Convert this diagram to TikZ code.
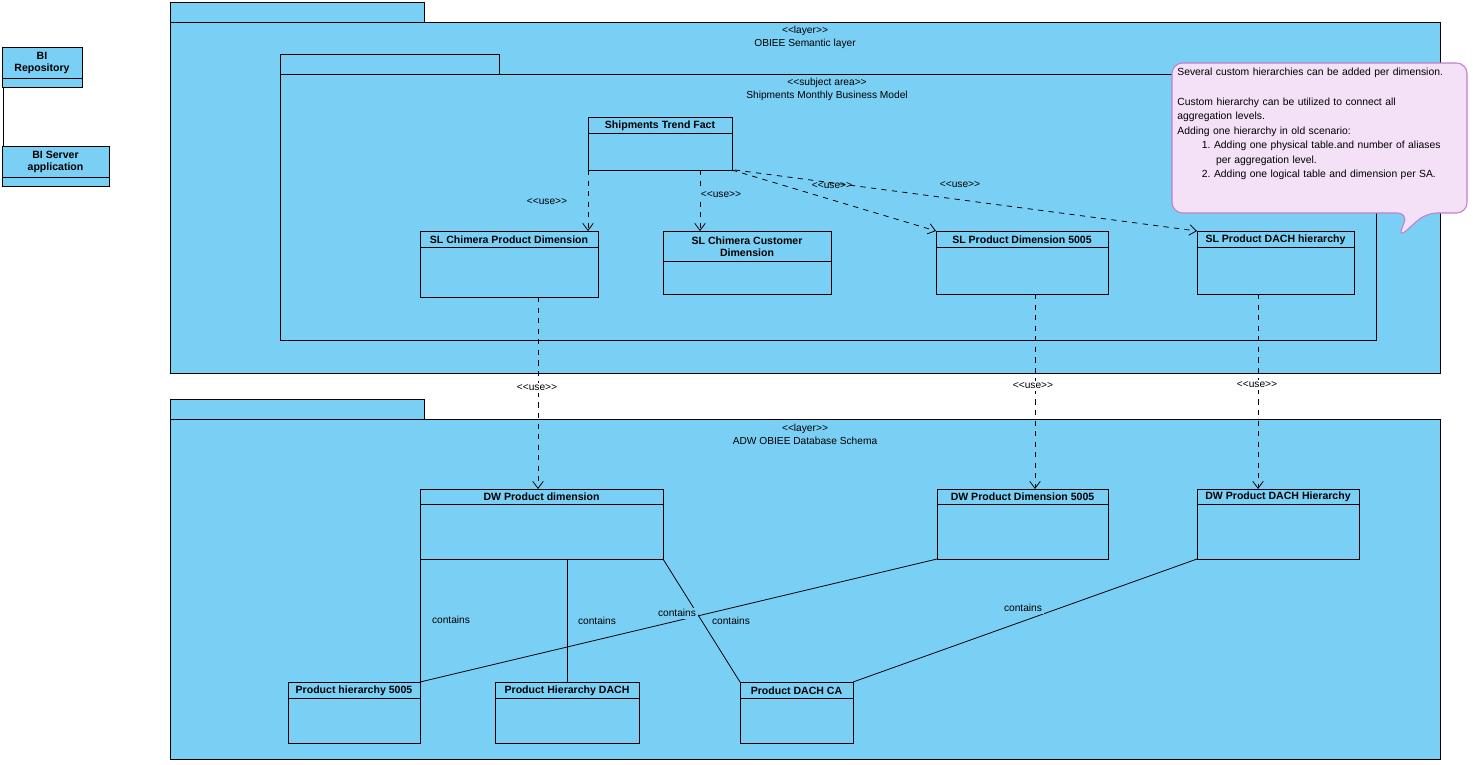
\documentclass[tikz,border=0pt]{standalone}
\usepackage{fontspec}
\setmainfont{Liberation Sans}
\usetikzlibrary{arrows.meta}
\definecolor{pkgblue}{HTML}{7ACFF5}
\definecolor{notepink}{HTML}{F4E0F7}
\definecolor{noteline}{HTML}{C27FCB}
\newcommand\stereo[1]{<{}<#1>{}>}
\tikzset{
  pkg/.style={draw=black, fill=pkgblue, line width=0.5pt},
  cls/.style={draw=black, fill=pkgblue, line width=0.5pt},
  ttl/.style={font=\fontsize{6}{7}\selectfont\bfseries, align=center, inner sep=0pt},
  stereo/.style={font=\fontsize{5.8}{7.5}\selectfont, align=center, inner sep=0pt},
  use/.style={draw, dashed, line width=0.45pt, -{Straight Barb[length=4pt,width=6pt]}},
  lbl/.style={font=\fontsize{5.8}{7}\selectfont, fill=pkgblue, inner sep=1pt},
  assoc/.style={draw, line width=0.45pt}
}
\begin{document}
\begin{tikzpicture}[x=0.02cm, y=-0.02cm]
\useasboundingbox (0,0) rectangle (1473,764);
\fill[white] (0,0) rectangle (1473,764);
% packages
\draw[pkg] (170,2) rectangle (424,22);
\draw[pkg] (170,22) rectangle (1440,373);
\node[stereo] at (805,37) {\stereo{layer}\\OBIEE Semantic layer};
\draw[pkg] (280,54) rectangle (499,74);
\draw[pkg] (280,74) rectangle (1376,340);
\node[stereo] at (827,89) {\stereo{subject area}\\Shipments Monthly Business Model};
\draw[pkg] (170,399) rectangle (424,419);
\draw[pkg] (170,419) rectangle (1440,759);
\node[stereo] at (805,434) {\stereo{layer}\\ADW OBIEE Database Schema};
% classes
\foreach \nm/\xa/\ya/\xb/\yb/\yh/\txt in {
  repo/2/47/82/87/78/{BI\\Repository},
  server/2/146/109/186/177/{BI Server\\application},
  fact/588/117/732/170/133/{Shipments Trend Fact},
  slcpd/420/231/598/297/247/{SL Chimera Product Dimension},
  slccd/663/231/831/294/261/{SL Chimera Customer\\Dimension},
  slpd/936/231/1108/294/247/{SL Product Dimension 5005},
  sldach/1197/231/1354/294/247/{SL Product DACH hierarchy},
  dwpd/420/489/663/559/504/{DW Product dimension},
  dwpd5/937/489/1108/559/504/{DW Product Dimension 5005},
  dwdach/1197/489/1359/559/504/{DW Product DACH Hierarchy},
  ph5/288/682/420/743/698/{Product hierarchy 5005},
  phdach/495/682/639/743/698/{Product Hierarchy DACH},
  pdca/740/682/853/743/698/{Product DACH CA}} {
  \draw[cls] (\xa,\ya) rectangle (\xb,\yb);
  \draw (\xa,\yh) -- (\xb,\yh);
  \node[ttl] (\nm) at ({(\xa+\xb)/2},{(\ya+\yh)/2+0.5}) {\txt};
}
\draw[assoc] (3,87) -- (3,146);
% use dependencies
\draw[use] (588,170) -- (588,231);
\node[lbl] at (547,202) {\stereo{use}};
\draw[use] (700,170) -- (700,231);
\node[lbl] at (721,195) {\stereo{use}};
\draw[use] (732,170) -- (936,231);
\node[lbl] at (832,186) {\stereo{use}};
\draw[use] (735,170) -- (1197,231);
\node[lbl] at (960,185) {\stereo{use}};
\draw[use] (538,297) -- (538,489);
\node[lbl, fill=white] at (537,388) {\stereo{use}};
\draw[use] (1035,294) -- (1035,489);
\node[lbl, fill=white] at (1033,386) {\stereo{use}};
\draw[use] (1258,294) -- (1258,489);
\node[lbl, fill=white] at (1257,385) {\stereo{use}};
% contains
\draw[assoc] (420,559) -- (420,682);
\node[lbl] at (451,620) {contains};
\draw[assoc] (567,559) -- (567,682);
\node[lbl] at (597,621) {contains};
\draw[assoc] (663,559) -- (740,682);
\node[lbl] at (731,621) {contains};
\draw[assoc] (937,559) -- (420,682);
\node[lbl] at (677,613) {contains};
\draw[assoc] (1197,559) -- (853,682);
\node[lbl] at (1023,608) {contains};
% note
\draw[noteline, fill=notepink, line width=0.6pt, rounded corners=6pt]
  (1172,63) -- (1467,63) -- (1467,213) -- (1426,213) -- (1398,238) -- (1408,213) -- (1172,213) -- cycle;
\node[font=\fontsize{5.9}{8.3}\selectfont, anchor=north west, align=left, inner sep=0pt, text width=280] at (1177,68)
  {Several custom hierarchies can be added per dimension.\\[8.3pt]
   Custom hierarchy can be utilized to connect all\\aggregation levels.\\
   Adding one hierarchy in old scenario:\\
   \hspace*{14pt}1.\ Adding one physical table.and number of aliases\\
   \hspace*{22pt}per aggregation level.\\
   \hspace*{14pt}2.\ Adding one logical table and dimension per SA.};
\end{tikzpicture}
\end{document}
